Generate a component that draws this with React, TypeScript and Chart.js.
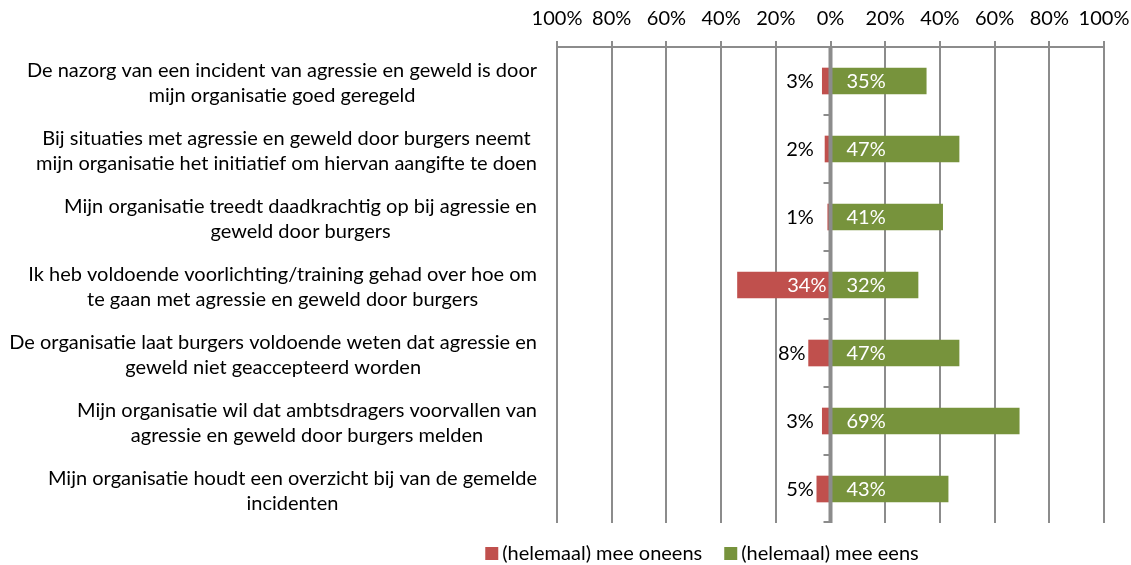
import React, { useEffect, useRef } from "react";
import { Chart, registerables } from "chart.js";

Chart.register(...registerables);

const categories: string[][] = [
  ["De nazorg van een incident van agressie en geweld is door", "mijn organisatie goed geregeld"],
  ["Bij situaties met agressie en geweld door burgers neemt", "mijn organisatie het initiatief om hiervan aangifte te doen"],
  ["Mijn organisatie treedt daadkrachtig op bij agressie en", "geweld door burgers"],
  ["Ik heb voldoende voorlichting/training gehad over hoe om", "te gaan met agressie en geweld door burgers"],
  ["De organisatie laat burgers voldoende weten dat agressie en", "geweld niet geaccepteerd worden"],
  ["Mijn organisatie wil dat ambtsdragers voorvallen van", "agressie en geweld door burgers melden"],
  ["Mijn organisatie houdt een overzicht bij van de gemelde", "incidenten"],
];
const disagree = [3, 2, 1, 34, 8, 3, 5];
const agree = [35, 47, 41, 32, 47, 69, 43];
const seriesNames = ["(helemaal) mee oneens", "(helemaal) mee eens"];
const axisMin = -100;
const axisMax = 100;
const axisStep = 20;

const RED = "#C0504D";
const GREEN = "#77933C";
const GRID = "#8C8C8C";
const FONT_FAMILY = "Lato, 'Liberation Sans', sans-serif";
const FONT_SIZE = 20;
const FONT = `${FONT_SIZE}px ${FONT_FAMILY}`;

const customPlugin = {
  id: "custom",
  afterDatasetsDraw(chart: any) {
    const ctx = chart.ctx as CanvasRenderingContext2D;
    const xs = chart.scales.x;
    const ys = chart.scales.y;
    const area = chart.chartArea;
    const x0 = xs.getPixelForValue(0);
    ctx.save();
    // zero axis
    ctx.strokeStyle = GRID;
    ctx.lineWidth = 4;
    ctx.beginPath();
    ctx.moveTo(x0, area.top);
    ctx.lineTo(x0, area.bottom);
    ctx.stroke();
    ctx.lineWidth = 2;
    const n = categories.length;
    const step = (area.bottom - area.top) / n;
    for (let i = 0; i <= n; i++) {
      const y = Math.min(area.top + i * step, area.bottom - 1);
      ctx.beginPath();
      ctx.moveTo(x0 - 7, y);
      ctx.lineTo(x0, y);
      ctx.stroke();
    }
    // data labels
    ctx.font = FONT;
    ctx.textBaseline = "middle";
    for (let i = 0; i < n; i++) {
      const y = ys.getPixelForValue(i) + 1;
      const d = disagree[i];
      if (d >= 15) {
        ctx.fillStyle = "#FFFFFF";
        ctx.textAlign = "right";
        ctx.fillText(d + "%", x0 - 4, y);
      } else {
        ctx.fillStyle = "#000000";
        ctx.textAlign = "right";
        ctx.fillText(d + "%", xs.getPixelForValue(-Math.max(d, 5)) - 3, y);
      }
      const a = agree[i];
      ctx.fillStyle = "#FFFFFF";
      ctx.textAlign = "left";
      ctx.fillText(a + "%", x0 + 16, y);
    }
    ctx.restore();
  },
  afterDraw(chart: any) {
    const ctx = chart.ctx as CanvasRenderingContext2D;
    const ys = chart.scales.y;
    ctx.save();
    ctx.font = FONT;
    ctx.fillStyle = "#000000";
    ctx.textBaseline = "middle";
    ctx.textAlign = "center";
    const rightEdge = 537;
    const lh = 25;
    categories.forEach((lines, i) => {
      const widest = Math.max(...lines.map((l) => ctx.measureText(l).width));
      const cx = rightEdge - widest / 2;
      const cy = ys.getPixelForValue(i) + 2;
      const startY = cy - ((lines.length - 1) * lh) / 2;
      lines.forEach((l, j) => ctx.fillText(l, cx, startY + j * lh));
    });
    // legend
    const box = 13;
    const gap = 4;
    const between = 22;
    const w1 = ctx.measureText(seriesNames[0]).width;
    const w2 = ctx.measureText(seriesNames[1]).width;
    const total = box + gap + w1 + between + box + gap + w2;
    let lx = 702 - total / 2;
    const ly = 553.5;
    ctx.textAlign = "left";
    [RED, GREEN].forEach((c, k) => {
      ctx.fillStyle = c;
      ctx.fillRect(lx, ly - box / 2, box, box);
      lx += box + gap;
      ctx.fillStyle = "#000000";
      ctx.fillText(seriesNames[k], lx, ly);
      lx += (k === 0 ? w1 : w2) + between;
    });
    ctx.restore();
  },
};

export default function App() {
  const ref = useRef<HTMLCanvasElement | null>(null);
  useEffect(() => {
    if (!ref.current) return;
    const labels = categories.map((c) => c.join(" "));
    const chart = new Chart(ref.current, {
      type: "bar",
      data: {
        labels,
        datasets: [
          {
            label: seriesNames[0],
            data: disagree.map((v) => -v),
            backgroundColor: RED,
            barThickness: 26,
          },
          {
            label: seriesNames[1],
            data: agree,
            backgroundColor: GREEN,
            barThickness: 26,
          },
        ],
      },
      options: {
        indexAxis: "y",
        responsive: false,
        animation: false,
        layout: { padding: { left: 0, right: 27, top: 0, bottom: 42 } },
        plugins: {
          legend: { display: false },
          tooltip: { enabled: false },
          title: { display: false },
        },
        scales: {
          x: {
            position: "top",
            min: axisMin,
            max: axisMax,
            stacked: true,
            ticks: {
              stepSize: axisStep,
              color: "#000000",
              padding: 10,
              maxRotation: 0,
              minRotation: 0,
              autoSkip: false,
              font: { family: FONT_FAMILY, size: FONT_SIZE },
              callback: (v: any) => Math.abs(Number(v)) + "%",
            },
            grid: { color: GRID, lineWidth: 2, tickLength: 6 },
            border: { display: true, color: GRID, width: 2 },
            afterFit: (s: any) => {
              s.height = 47;
              s.paddingLeft = 0;
              s.paddingRight = 0;
            },
          },
          y: {
            stacked: true,
            grid: { display: false },
            ticks: { display: false },
            border: { display: false },
            afterFit: (s: any) => {
              s.width = 557;
              s.paddingTop = 0;
              s.paddingBottom = 0;
            },
          },
        },
      },
      plugins: [customPlugin],
    } as any);
    return () => chart.destroy();
  }, []);
  return (
    <div style={{ position: "absolute", left: 0, top: 0, width: 1131, height: 565, background: "#fff" }}>
      <canvas ref={ref} width={1131} height={565} style={{ display: "block" }} />
    </div>
  );
}
